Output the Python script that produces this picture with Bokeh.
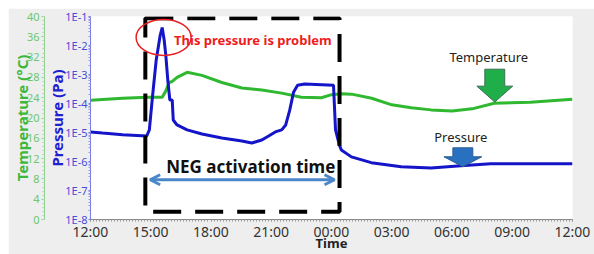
import numpy as np
from bokeh.plotting import figure
from bokeh.models import (Range1d, LinearAxis, LinearScale, FixedTicker, CustomJSTickFormatter,
                          Label, Arrow, OpenHead)
from bokeh.embed import file_html
from bokeh.resources import INLINE

# ---- data (hours since 12:00) ----
p_hours = [0, 0.6, 1.6, 2.8, 2.93, 3.07, 3.27, 3.47, 3.57, 3.67, 3.75, 3.85, 3.95, 4.07,
           4.12, 4.31, 4.81, 5.55, 6.54, 7.54, 8.03, 8.53, 8.87, 9.2, 9.52, 9.72, 9.92,
           10.11, 10.31, 10.66, 12.10, 12.2, 12.39, 12.49, 12.99, 13.98, 15.47, 16.96,
           18.44, 19.93, 24.0]
p_log = [-4.98, -5.02, -5.08, -5.12, -4.91, -3.88, -2.51, -1.65, -1.38, -1.82, -2.34, -3.20,
         -3.88, -3.88, -4.57, -4.74, -4.91, -5.05, -5.19, -5.29, -5.36, -5.26, -5.12, -4.98,
         -4.91, -4.74, -4.23, -3.61, -3.37, -3.33, -3.37, -4.91, -5.43, -5.60, -5.84, -6.04,
         -6.18, -6.22, -6.15, -6.08, -6.08]
pressure = [10 ** v for v in p_log]

t_hours = [0, 1.6, 2.83, 3.57, 3.72, 3.92, 4.07, 4.31, 4.81, 5.55, 6.54, 7.54, 8.53, 9.52,
           10.5, 11.5, 12.0, 12.5, 13.0, 14.0, 15.0, 15.97, 16.96, 18.0, 19.0, 20.1, 21.9, 24.0]
temperature = [23.5, 23.9, 24.1, 24.1, 25.1, 27.0, 27.2, 28.0, 29.0, 28.4, 27.0, 25.9, 25.5,
               24.9, 24.1, 24.0, 24.6, 24.8, 24.7, 23.9, 22.6, 22.0, 21.6, 21.4, 21.8, 22.9,
               23.1, 23.7]

x_ticks = [0, 3, 6, 9, 12, 15, 18, 21, 24]
x_tick_labels = ["12:00", "15:00", "18:00", "21:00", "00:00", "03:00", "06:00", "09:00", "12:00"]
p_ticks = [1e-8, 1e-7, 1e-6, 1e-5, 1e-4, 1e-3, 1e-2, 1e-1]
t_ticks = list(range(0, 41, 4))

# ---- styling ----
FONT = "Noto Sans"
P_COLOR = "#1414c8"
T_COLOR = "#30b830"

p = figure(width=586, height=246, output_backend="svg", toolbar_location=None,
           y_axis_type="log", x_range=Range1d(0, 24), y_range=Range1d(1e-8, 1e-1),
           background_fill_color="white", border_fill_color="#eeeeee",
           min_border_left=5, min_border_right=22, min_border_top=8, min_border_bottom=10)
p.margin = (8, 0, 0, 8)
p.grid.visible = False
p.outline_line_color = None
p.extra_y_ranges = {"temp": Range1d(0, 40)}
p.extra_y_scales = {"temp": LinearScale()}

# x axis
xa = p.xaxis[0]
xa.ticker = FixedTicker(ticks=x_ticks, minor_ticks=list(np.arange(0, 24.01, 0.15)))
xa.major_label_overrides = {t: l for t, l in zip(x_ticks, x_tick_labels)}
xa.axis_label = "Time"
xa.axis_label_text_font = FONT
xa.axis_label_text_font_style = "bold"
xa.axis_label_text_font_size = "13px"
xa.axis_label_text_color = "#222222"
xa.axis_label_standoff = -10
xa.major_label_text_font = FONT
xa.major_label_text_font_size = "14px"
xa.major_label_text_color = "#333333"
xa.major_label_standoff = 0
xa.axis_line_color = "#888888"
xa.major_tick_line_color = "#888888"
xa.minor_tick_line_color = "#999999"
xa.major_tick_out = 2
xa.major_tick_in = 0
xa.minor_tick_out = 2
xa.minor_tick_in = 0

# pressure axis
ya = p.yaxis[0]
ya.ticker = FixedTicker(ticks=p_ticks,
                        minor_ticks=[m * 10 ** e for e in range(-8, -1) for m in range(2, 10)])
ya.formatter = CustomJSTickFormatter(code="return '1E' + Math.round(Math.log10(tick));")
ya.axis_label = "Pressure (Pa)"
ya.axis_label_text_font = FONT
ya.axis_label_text_font_style = "bold"
ya.axis_label_text_font_size = "15px"
ya.axis_label_text_color = "#2020d0"
ya.axis_label_standoff = -5
ya.major_label_text_font = FONT
ya.major_label_text_font_size = "11px"
ya.major_label_text_color = "#4a4ad8"
ya.major_label_standoff = 1
ya.axis_line_color = "#7a7ae8"
ya.major_tick_line_color = "#7a7ae8"
ya.minor_tick_line_color = "#9a9aee"
ya.major_tick_out = 2
ya.major_tick_in = 0
ya.minor_tick_out = 2
ya.minor_tick_in = 0

# temperature axis
ta = LinearAxis(y_range_name="temp", ticker=FixedTicker(ticks=t_ticks,
                minor_ticks=list(np.arange(0, 40.01, 0.8))))
ta.axis_label = "Temperature (°C)"
ta.axis_label_text_font = FONT
ta.axis_label_text_font_style = "bold"
ta.axis_label_text_font_size = "15px"
ta.axis_label_text_color = "#3cb83c"
ta.axis_label_standoff = -8
ta.major_label_text_font = FONT
ta.major_label_text_font_size = "11px"
ta.major_label_text_color = "#6cc86c"
ta.major_label_standoff = 2
ta.axis_line_color = "#8fd08f"
ta.major_tick_line_color = "#8fd08f"
ta.minor_tick_line_color = "#a8dca8"
ta.major_tick_out = 3
ta.major_tick_in = 0
ta.minor_tick_out = 2
ta.minor_tick_in = 0
p.add_layout(ta, "left")

# ---- data lines ----
p.line(t_hours, temperature, y_range_name="temp", line_color=T_COLOR, line_width=3)
p.line(p_hours, pressure, line_color=P_COLOR, line_width=3)

# ---- annotations ----
PX_H = 484 / 24.0      # pixels per hour
PX_D = 204 / 7.0       # pixels per decade

# dashed box for NEG activation
p.quad(left=[2.73], right=[12.4], bottom=[10 ** -7.73], top=[10 ** -1.06],
       fill_alpha=0, line_color="black", line_width=4, line_dash="28 14")

# red ellipse
p.ellipse(x=[3.64], y=[10 ** -1.72], width=55, height=36, width_units="screen",
          height_units="screen", fill_alpha=0, line_color="#e82020", line_width=1.5)

p.add_layout(Label(x=4.16, y=10 ** -1.82, text="This pressure is problem",
                   text_color="#ee1c1c", text_font=FONT, text_font_style="bold",
                   text_font_size="13px", text_baseline="middle"))
p.add_layout(Label(x=7.98, y=10 ** -6.18, text="NEG activation time",
                   text_color="#111111", text_font=FONT, text_font_style="bold",
                   text_font_size="17px", text_baseline="middle", text_align="center"))
p.add_layout(Arrow(start=OpenHead(size=10, line_color="#4a86c8", line_width=3),
                   end=OpenHead(size=10, line_color="#4a86c8", line_width=3),
                   x_start=2.97, y_start=10 ** -6.63, x_end=12.15, y_end=10 ** -6.63,
                   line_color="#4a86c8", line_width=3))

p.add_layout(Label(x=19.83, y=10 ** -2.41, text="Temperature", text_color="#222222",
                   text_font=FONT, text_font_size="13px", text_baseline="middle",
                   text_align="center"))
p.add_layout(Label(x=18.44, y=10 ** -5.15, text="Pressure", text_color="#222222",
                   text_font=FONT, text_font_size="13px", text_baseline="middle",
                   text_align="center"))


def block_arrow(tip_h, tip_log, shaft_w, shaft_h, head_w, head_h):
    pts = [(0, 0), (head_w / 2, head_h), (shaft_w / 2, head_h), (shaft_w / 2, head_h + shaft_h),
           (-shaft_w / 2, head_h + shaft_h), (-shaft_w / 2, head_h), (-head_w / 2, head_h)]
    xs = [tip_h + dx / PX_H for dx, dy in pts]
    ys = [10 ** (tip_log + dy / PX_D) for dx, dy in pts]
    return xs, ys


gx, gy = block_arrow(20.13, -3.95, 20, 17, 36, 16)
p.patch(gx, gy, fill_color="#1fae4a", line_color="#3d6e55", line_width=1)
bx, by = block_arrow(18.54, -6.18, 20, 9, 38, 10)
p.patch(bx, by, fill_color="#2a70c0", line_color="#2a5a90", line_width=1)

open("out.html", "w").write(file_html(p, INLINE))
